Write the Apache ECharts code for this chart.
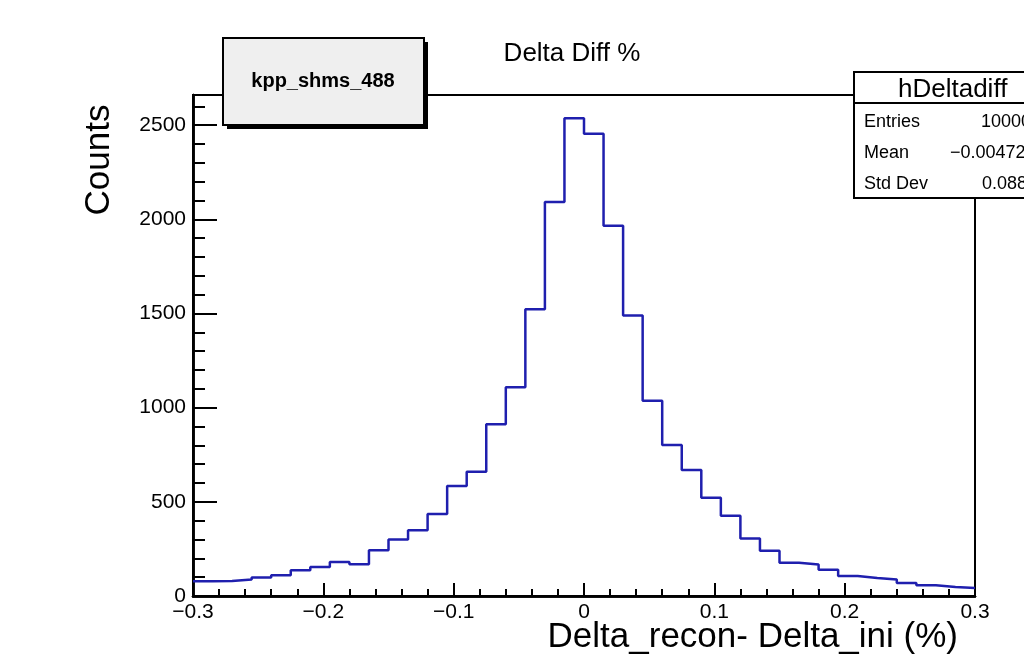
<!DOCTYPE html>
<html>
<head>
<meta charset="utf-8">
<script src="https://cdn.jsdelivr.net/npm/echarts@6/dist/echarts.min.js"></script>
<style>
  html, body { margin: 0; padding: 0; background: #fff; }
  #chart { width: 1024px; height: 665px; }
</style>
</head>
<body>
<div id="chart"></div>
<script>
// Histogram hDeltadiff: 40 bins of width 0.015 between -0.3 and 0.3
const xMin = -0.3;
const xMax = 0.3;
const binWidth = 0.015;
const counts = [
  78, 80, 87, 98, 110, 137, 154, 181, 169, 243,
  300, 349, 436, 584, 660, 912, 1108, 1523, 2092, 2537,
  2454, 1966, 1489, 1037, 802, 669, 521, 426, 305, 240,
  176, 167, 140, 106, 96, 87, 69, 57, 48, 43
];
const yMax = 2660;
const xTicks = [-0.3, -0.2, -0.1, 0, 0.1, 0.2, 0.3];
const yTicks = [0, 500, 1000, 1500, 2000, 2500];
const statsLabels = ['Entries', 'Mean', 'Std Dev'];
const statsValues = ['10000', '\u22120.00472', '0.088'];

// Step outline: one point per bin low edge, plus the closing upper edge
const stepData = counts.map((c, i) => [xMin + i * binWidth, c]);
stepData.push([xMax, counts[counts.length - 1]]);

const FONT = "'Liberation Sans', Arial, Helvetica, sans-serif";

function fmtX(v) {
  const r = Math.round(v * 10) / 10;
  if (Math.abs(r) < 1e-9) return '0';
  return (r < 0 ? '\u2212' : '') + Math.abs(r).toFixed(1);
}

const chart = echarts.init(document.getElementById('chart'), null, { renderer: 'canvas' });

const baseX = {
  type: 'value', min: xMin, max: xMax, position: 'bottom',
  splitLine: { show: false },
  axisLine: { show: true, onZero: false, lineStyle: { color: '#000', width: 2.5 } }
};
const baseY = {
  type: 'value', min: 0, max: yMax, position: 'left',
  splitLine: { show: false },
  axisLine: { show: true, onZero: false, lineStyle: { color: '#000', width: 2.5 } }
};

chart.setOption({
  animation: false,
  backgroundColor: '#fff',
  grid: {
    left: 193, right: 49, top: 95, bottom: 69,
    show: true, borderColor: '#000', borderWidth: 2, backgroundColor: 'transparent'
  },
  xAxis: [
    Object.assign({}, baseX, {
      interval: 0.1,
      axisTick: { show: true, inside: true, length: 13, lineStyle: { color: '#000', width: 2 } },
      axisLabel: {
        show: true, margin: 6, fontSize: 21, color: '#000', fontFamily: FONT,
        customValues: xTicks, formatter: fmtX
      }
    }),
    Object.assign({}, baseX, {
      interval: 0.02,
      axisTick: { show: true, inside: true, length: 7, lineStyle: { color: '#000', width: 2 } },
      axisLabel: { show: false }
    })
  ],
  yAxis: [
    Object.assign({}, baseY, {
      interval: 500,
      axisTick: { show: true, inside: true, length: 24, lineStyle: { color: '#000', width: 2 } },
      axisLabel: {
        show: true, margin: 7, fontSize: 21, color: '#000', fontFamily: FONT,
        customValues: yTicks, formatter: (v) => String(v)
      }
    }),
    Object.assign({}, baseY, {
      interval: 100,
      axisTick: { show: true, inside: true, length: 12, lineStyle: { color: '#000', width: 2 } },
      axisLabel: { show: false }
    })
  ],
  series: [{
    type: 'line',
    xAxisIndex: 0, yAxisIndex: 0,
    data: stepData,
    step: 'end',
    symbol: 'none',
    clip: true,
    lineStyle: { color: '#1f1fae', width: 2.5 },
    z: 3
  }],
  graphic: [
    // title
    { type: 'text', x: 572, y: 54, z: 10,
      style: { text: 'Delta Diff %', font: "26px " + FONT, fill: '#000', align: 'center', verticalAlign: 'middle' } },
    // run label box with shadow
    { type: 'rect', shape: { x: 227, y: 42, width: 201, height: 87 }, z: 10,
      style: { fill: '#000' } },
    { type: 'rect', shape: { x: 223, y: 38, width: 201, height: 87 }, z: 11,
      style: { fill: '#efefef', stroke: '#000', lineWidth: 2 } },
    { type: 'text', x: 323, y: 81, z: 12,
      style: { text: 'kpp_shms_488', font: "bold 20px " + FONT, fill: '#000', align: 'center', verticalAlign: 'middle' } },
    // statistics box
    { type: 'rect', shape: { x: 854, y: 72, width: 220, height: 126 }, z: 10,
      style: { fill: '#fff', stroke: '#000', lineWidth: 2 } },
    { type: 'line', shape: { x1: 854, y1: 103, x2: 1074, y2: 103 }, z: 11,
      style: { stroke: '#000', lineWidth: 2 } },
    { type: 'text', x: 898, y: 90, z: 12,
      style: { text: 'hDeltadiff', font: "26px " + FONT, fill: '#000', align: 'left', verticalAlign: 'middle' } },
    { type: 'text', x: 864, y: 122, z: 12,
      style: { text: statsLabels[0], font: "18px " + FONT, fill: '#000', verticalAlign: 'middle' } },
    { type: 'text', x: 864, y: 153, z: 12,
      style: { text: statsLabels[1], font: "18px " + FONT, fill: '#000', verticalAlign: 'middle' } },
    { type: 'text', x: 864, y: 184, z: 12,
      style: { text: statsLabels[2], font: "18px " + FONT, fill: '#000', verticalAlign: 'middle' } },
    { type: 'text', x: 981, y: 122, z: 12,
      style: { text: statsValues[0], font: "18px " + FONT, fill: '#000', verticalAlign: 'middle' } },
    { type: 'text', x: 950, y: 153, z: 12,
      style: { text: statsValues[1], font: "18px " + FONT, fill: '#000', verticalAlign: 'middle' } },
    { type: 'text', x: 982, y: 184, z: 12,
      style: { text: statsValues[2], font: "18px " + FONT, fill: '#000', verticalAlign: 'middle' } },
    // axis titles
    { type: 'text', x: 99, y: 160, rotation: Math.PI / 2, z: 10,
      style: { text: 'Counts', font: "35px " + FONT, fill: '#000', align: 'center', verticalAlign: 'middle' } },
    { type: 'text', x: 958, y: 637, z: 10,
      style: { text: 'Delta_recon- Delta_ini (%)', font: "35px " + FONT, fill: '#000', align: 'right', verticalAlign: 'middle' } }
  ]
});
</script>
</body>
</html>
